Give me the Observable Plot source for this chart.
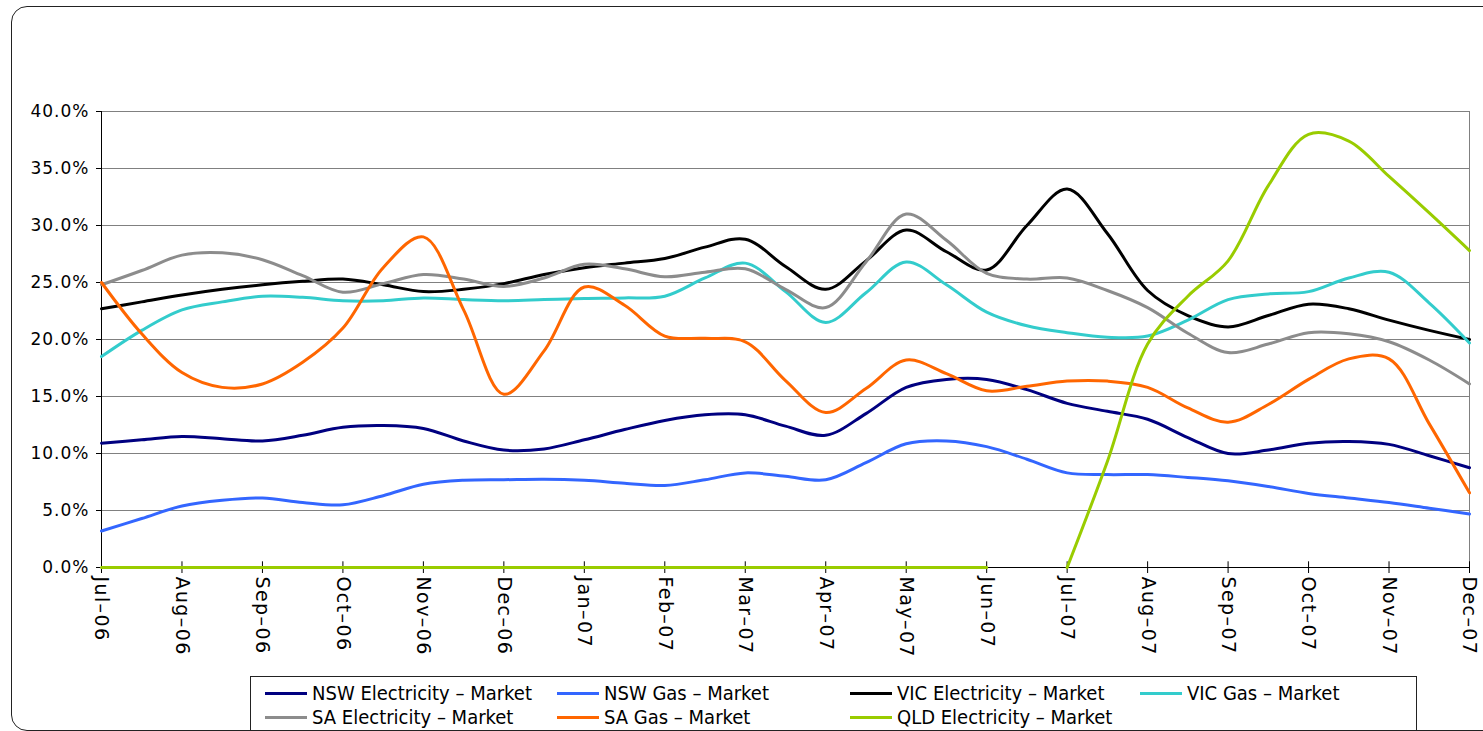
<!DOCTYPE html>
<html><head><meta charset="utf-8">
<script src="https://cdn.jsdelivr.net/npm/d3@7"></script>
<script src="https://cdn.jsdelivr.net/npm/@observablehq/plot@0.6"></script>
<style>
body{margin:0;background:#fff;width:1483px;height:731px;overflow:hidden;position:relative;font-family:"DejaVu Sans",sans-serif}
#frame{position:absolute;left:11px;top:6px;width:1500px;height:723px;border:1.5px solid #222;border-radius:16px;pointer-events:none;z-index:3}
#chart{position:absolute;left:0;top:0}
#legend{position:absolute;left:250px;top:676px;width:1165px;height:80px;border:1px solid #222;background:#fff;z-index:2}
.item{position:absolute;height:24px;display:flex;align-items:center;font-family:"DejaVu Sans Condensed","DejaVu Sans",sans-serif;font-stretch:condensed;font-size:20px;color:#000;white-space:nowrap}
.sw{width:42px;height:3px;margin-right:5px}
</style></head><body>
<div id="chart"></div>
<div id="legend"></div>
<div id="frame"></div>
<script>
const months = ["Jul–06","Aug–06","Sep–06","Oct–06","Nov–06","Dec–06","Jan–07","Feb–07","Mar–07","Apr–07","May–07","Jun–07","Jul–07","Aug–07","Sep–07","Oct–07","Nov–07","Dec–07"];
const yTicks = [0,5,10,15,20,25,30,35,40];

const seriesNames = ["NSW Electricity – Market","NSW Gas – Market","VIC Electricity – Market","VIC Gas – Market","SA Electricity – Market","SA Gas – Market","QLD Electricity – Market"];
const seriesColors = ["#000080","#3366FF","#000000","#33CCCC","#8C8C8C","#FF6600","#99CC00"];

// half-monthly readings, Jul-06 .. Dec-07 (35 points), in percent
const nswElectricity = [10.9,11.2,11.5,11.3,11.1,11.6,12.3,12.45,12.2,11.1,10.3,10.4,11.2,12.1,12.9,13.4,13.4,12.4,11.6,13.5,15.8,16.5,16.5,15.6,14.4,13.7,13.0,11.4,10.0,10.3,10.9,11.05,10.8,9.8,8.75];
const nswGas = [3.2,4.3,5.4,5.9,6.1,5.7,5.5,6.3,7.3,7.65,7.7,7.75,7.65,7.4,7.2,7.7,8.3,8.0,7.7,9.2,10.85,11.1,10.6,9.5,8.3,8.15,8.15,7.9,7.6,7.1,6.5,6.1,5.7,5.2,4.7];
const vicElectricity = [22.7,23.3,23.9,24.4,24.8,25.1,25.3,24.8,24.2,24.4,24.9,25.7,26.3,26.7,27.1,28.1,28.8,26.4,24.4,26.9,29.6,27.7,26.1,30.0,33.2,29.3,24.3,22.1,21.1,22.1,23.1,22.7,21.7,20.8,20.0];
const vicGas = [18.5,20.8,22.6,23.3,23.8,23.7,23.4,23.4,23.65,23.5,23.4,23.5,23.6,23.65,23.8,25.4,26.7,24.2,21.5,24.1,26.8,24.8,22.4,21.2,20.6,20.2,20.3,21.7,23.5,24.0,24.2,25.4,25.9,23.2,19.7];
const saElectricity = [24.8,26.05,27.4,27.6,27.0,25.6,24.15,24.9,25.7,25.3,24.65,25.4,26.6,26.2,25.5,25.9,26.2,24.4,22.8,26.8,31.0,28.7,25.8,25.3,25.4,24.3,22.8,20.55,18.85,19.6,20.6,20.5,19.8,18.2,16.1];
const saGas = [25.0,20.5,17.1,15.8,16.1,18.0,21.0,26.3,29.0,22.6,15.2,19.0,24.6,23.0,20.3,20.1,19.8,16.4,13.6,15.7,18.2,17.0,15.5,15.9,16.35,16.35,15.8,14.0,12.75,14.3,16.5,18.3,18.3,12.6,6.55];
const qldElectricity = [0,0,0,0,0,0,0,0,0,0,0,0,0,0,0,0,0,0,0,0,0,0,0,null,0,9.3,19.6,23.8,26.9,33.5,38.0,37.4,34.3,31.1,27.8];

const allSeries = [nswElectricity,nswGas,vicElectricity,vicGas,saElectricity,saGas,qldElectricity];
const table = seriesNames.flatMap((name, s) =>
  allSeries[s].map((v, i) => ({name, x: i / 2, y: v == null ? NaN : v})));

const chart = Plot.plot({
  width: 1483, height: 660,
  marginLeft: 101, marginRight: 14, marginTop: 111, marginBottom: 93,
  x: {domain: [0, months.length - 1]},
  y: {domain: [0, 40]},
  color: {domain: seriesNames, range: seriesColors},
  style: {fontFamily: "DejaVu Sans", color: "#000", background: "transparent", overflow: "visible"},
  marks: [
    Plot.gridY(yTicks.filter(d => d > 0), {stroke: "#808080", strokeOpacity: 1}),
    Plot.ruleX([months.length - 1], {y1: 0, y2: 40, stroke: "#808080"}),
    Plot.axisY(yTicks, {tickSize: 5, tickPadding: 7, tickFormat: d => d.toFixed(1) + "%", fontSize: 17, label: null}),
    Plot.ruleX([0], {y1: 0, y2: 40, stroke: "#000"}),
    Plot.axisX(d3.range(months.length), {tickSize: 6, tickPadding: 3, tickRotate: 90, tickFormat: i => months[i], fontSize: 19, label: null}),
    Plot.ruleX(d3.range(months.length), {y1: 0, y2: 0.5, stroke: "#000"}),
    Plot.ruleY([0], {stroke: "#000"}),
    Plot.line(table, {x: "x", y: "y", z: "name", stroke: "name", strokeWidth: 3, curve: "catmull-rom"})
  ]
});
d3.select(chart).selectAll('g[aria-label="x-axis tick label"] text').attr("letter-spacing", "1.4px");
d3.select(chart).selectAll('g[aria-label="y-axis tick label"] text').attr("letter-spacing", "1px");
document.getElementById("chart").appendChild(chart);

// legend
const legend = document.getElementById("legend");
const colLeft = [14, 306, 599, 889];
const rowTop = [4, 28];
seriesNames.forEach((name, k) => {
  const it = document.createElement("div");
  it.className = "item";
  it.style.left = colLeft[k % 4] + "px";
  it.style.top = rowTop[Math.floor(k / 4)] + "px";
  const sw = document.createElement("span");
  sw.className = "sw";
  sw.style.background = seriesColors[k];
  const tx = document.createElement("span");
  tx.textContent = name;
  it.appendChild(sw); it.appendChild(tx);
  legend.appendChild(it);
});
</script>
</body></html>
